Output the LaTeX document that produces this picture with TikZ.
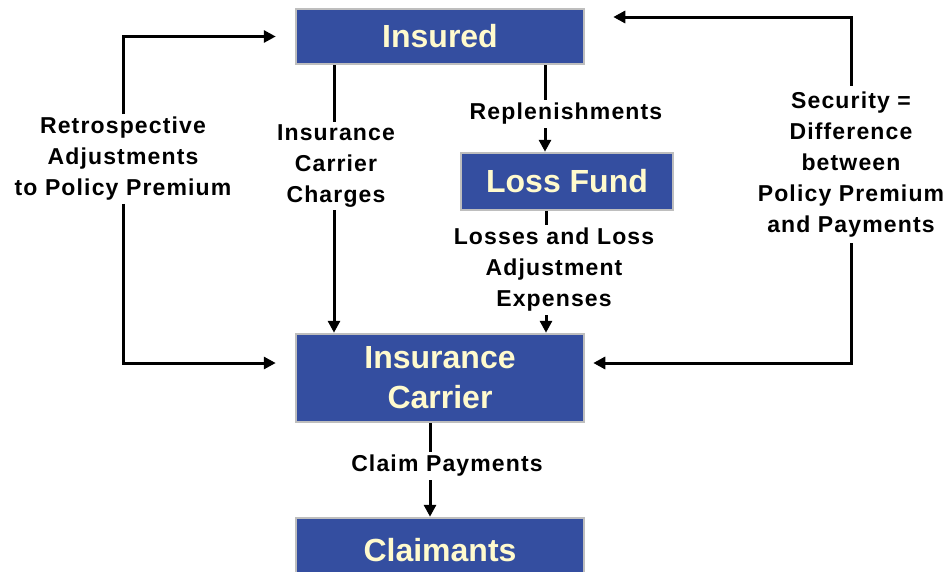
\documentclass[tikz,border=0pt]{standalone}
\usepackage{fontspec}
\setmainfont{Liberation Sans}
\usetikzlibrary{arrows.meta,calc}

\definecolor{boxblue}{RGB}{52,78,160}
\definecolor{boxedge}{RGB}{190,190,190}
\definecolor{boxtext}{RGB}{255,250,205}

\tikzset{
  entity/.style={draw=boxedge, line width=2.5pt, fill=boxblue, text=boxtext,
    font=\fontsize{32}{40}\selectfont\bfseries, align=center, inner sep=0pt,
    minimum width=288pt},
  flowlabel/.style={font=\fontsize{23}{31}\selectfont\bfseries\addfontfeature{LetterSpace=5},
    align=center, fill=white, inner xsep=2pt, inner ysep=3pt},
  flow/.style={line width=3pt, -{Triangle[length=12pt,width=12pt]}},
}

\begin{document}
\begin{tikzpicture}[x=1pt, y=-1pt]
  \useasboundingbox (0,0) rectangle (951,571);

  % entities
  \node[entity, minimum height=55pt] (insured) at (440,36.5) {Insured};
  \node[entity, minimum width=212pt, minimum height=57pt] (fund) at (567,181.5) {Loss Fund};
  \node[entity, minimum height=88pt] (carrier) at (440,378) {Insurance\\Carrier};
  \node[entity, minimum height=64pt] (claimants) at (440,550) {Claimants};

  % side loops
  \node[flowlabel] (retro) at (123,159) {Retrospective\\Adjustments\\to Policy Premium};
  \node[flowlabel, inner ysep=6pt] (secur) at (851,164.5) {Security =\\Difference\\between\\Policy Premium\\and Payments};

  \draw[flow] (retro.north) |- ($(insured.west)+(-19,0)$);
  \draw[flow] (retro.south) |- ($(carrier.west)+(-19,-15)$);
  \draw[flow] (secur.north) |- ($(insured.east)+(28,-19.5)$);
  \draw[flow] (secur.south) |- ($(carrier.east)+(8,-15)$);

  % vertical flows
  \draw[flow] ([xshift=-106pt]insured.south) -- ([xshift=-106pt]carrier.north);
  \draw[flow] ([xshift=105pt]insured.south) -- ([xshift=-22pt]fund.north);
  \draw[flow] ([xshift=-21pt]fund.south) -- ([xshift=106pt]carrier.north);
  \draw[flow] ([xshift=-10pt]carrier.south) -- ([xshift=-10pt]claimants.north);

  % flow labels
  \node[flowlabel] (charges) at (336,166) {Insurance\\Carrier\\Charges};
  \node[flowlabel] (repl) at (566,114) {Replenishments};
  \node[flowlabel] (losses) at (554,270) {Losses and Loss\\Adjustment\\Expenses};
  \node[flowlabel] (claimpay) at (447,466) {Claim Payments};
\end{tikzpicture}
\end{document}
